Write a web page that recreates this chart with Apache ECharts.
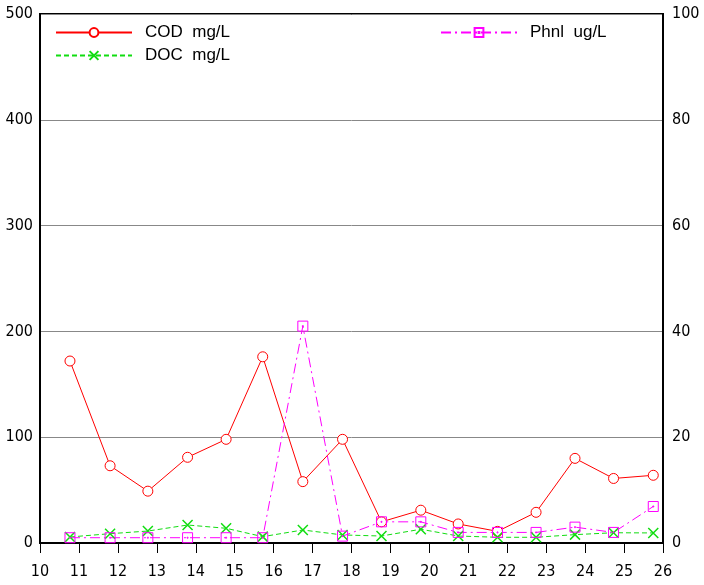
<!DOCTYPE html>
<html><head><meta charset="utf-8">
<script src="https://cdn.jsdelivr.net/npm/echarts@6/dist/echarts.min.js"></script>
<style>html,body{margin:0;padding:0;background:#fff}#c{width:704px;height:585px}</style>
</head><body><div id="c"></div>
<script>
const days = [10.77, 11.8, 12.77, 13.79, 14.78, 15.72, 16.75, 17.77, 18.77, 19.78, 20.74, 21.75, 22.74, 23.74, 24.73, 25.75];
const cod = [172, 73, 49, 81, 98, 176, 58, 98, 20, 31, 18, 11, 29, 80, 61, 64];
const doc = [5.7, 8.8, 11.3, 17, 13.9, 6, 12.3, 7.6, 6.6, 13, 6.6, 5.4, 5.4, 7.9, 9.7, 9.5];
const phnl = [1, 1, 1, 1, 1, 1, 41, 1.3, 4, 4, 2, 2, 2, 3, 2, 6.9];
const xTicks = {min: 10, max: 26, interval: 1};
const leftTicks = {min: 0, max: 500, interval: 100};
const rightTicks = {min: 0, max: 100, interval: 20};

const pair = (xs, ys) => xs.map((x, i) => [x, ys[i]]);
const font = "'Liberation Sans Narrow','DejaVu Sans Condensed',sans-serif";
const lfont = "'Liberation Sans',sans-serif";
const chart = echarts.init(document.getElementById('c'), null, {renderer: 'canvas'});
chart.setOption({
  animation: false,
  backgroundColor: '#fff',
  grid: {left: 40, right: 41, top: 14, bottom: 42, show: true, borderColor: '#000', borderWidth: 2},
  legend: [
    {data: ['COD  mg/L', 'DOC  mg/L'], orient: 'vertical', left: 50, top: 19, itemWidth: 76, itemHeight: 11, itemGap: 6,
     textStyle: {fontFamily: lfont, fontSize: 17, color: '#000', padding: [0,0,0,8]}},
    {data: ['Phnl  ug/L'], left: 435, top: 19, itemWidth: 76, itemHeight: 11,
     textStyle: {fontFamily: lfont, fontSize: 17, color: '#000', padding: [0,0,0,8]}}
  ],
  xAxis: {type: 'value', min: xTicks.min, max: xTicks.max, interval: xTicks.interval,
    axisLine: {lineStyle: {color: '#000', width: 2}},
    axisTick: {show: true, inside: false, length: 10, lineStyle: {color: '#000', width: 1}},
    axisLabel: {fontFamily: font, fontSize: 16, color: '#000', margin: 21},
    splitLine: {show: false}},
  yAxis: [
    {type: 'value', min: leftTicks.min, max: leftTicks.max, interval: leftTicks.interval,
     axisLine: {show: true, lineStyle: {color: '#000', width: 2}}, axisTick: {show: false},
     axisLabel: {fontFamily: font, fontSize: 16, color: '#000', margin: 7},
     splitLine: {show: true, lineStyle: {color: '#888', width: 1}}},
    {type: 'value', min: rightTicks.min, max: rightTicks.max, interval: rightTicks.interval, position: 'right',
     axisLine: {show: true, lineStyle: {color: '#000', width: 2}}, axisTick: {show: false},
     axisLabel: {fontFamily: font, fontSize: 16, color: '#000', margin: 9},
     splitLine: {show: false}}
  ],
  series: [
    {name: 'COD  mg/L', type: 'line', yAxisIndex: 0, data: pair(days, cod),
     symbol: 'circle', symbolSize: 10, color: '#ff0000',
     lineStyle: {color: '#ff0000', width: 1},
     itemStyle: {color: '#fff', borderColor: '#ff0000', borderWidth: 1}},
    {name: 'DOC  mg/L', type: 'line', yAxisIndex: 0, data: pair(days, doc),
     symbol: 'path://M0,0L10,10M10,0L0,10', symbolSize: 10, color: '#11dd11',
     lineStyle: {color: '#11dd11', width: 1, type: [5, 3]},
     itemStyle: {color: 'none', borderColor: '#11dd11', borderWidth: 1.5}},
    {name: 'Phnl  ug/L', type: 'line', yAxisIndex: 1, data: pair(days, phnl),
     symbol: 'path://M0,0H10V10H0Z M4.5,4.5H5.5V5.5H4.5Z', symbolSize: 10, color: '#ff00ff',
     lineStyle: {color: '#ff00ff', width: 1, type: [10, 4, 2, 4]},
     itemStyle: {color: 'none', borderColor: '#ff00ff', borderWidth: 1}}
  ]
});
</script></body></html>
